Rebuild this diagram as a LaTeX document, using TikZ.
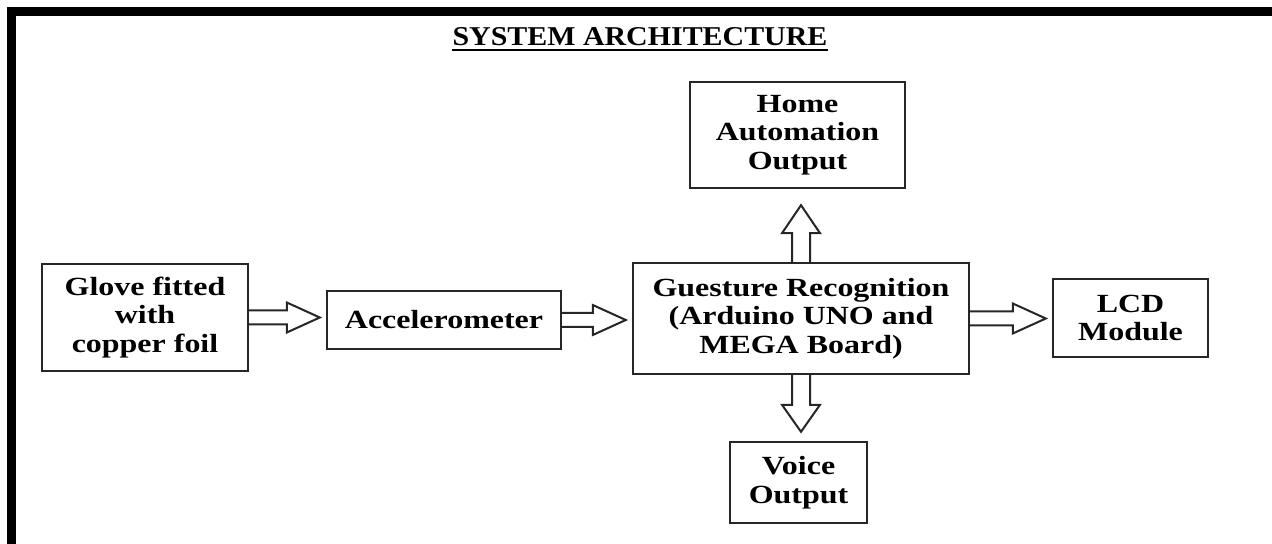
\documentclass[tikz,border=0pt]{standalone}
\usepackage{fontspec}
\setmainfont{Liberation Serif}
\newfontfamily\boxfont[FakeStretch=1.22]{Liberation Serif}
\newfontfamily\titlefont[FakeStretch=1.1]{Liberation Serif}
\usetikzlibrary{calc}
\tikzset{
	block/.style={draw=black!85, line width=1.2pt, fill=white, align=center, inner sep=0pt,
		font=\boxfont\fontsize{13.1}{14.3}\selectfont\bfseries},
	blockarrow/.style={draw=black!85, line width=1pt, line join=miter},
}
% hollow arrow from #1 (east side) to #2 (west side)
\newcommand{\hollowright}[2]{%
	\draw[blockarrow] ($(#1.east)+(0,-7)$) -- ($(#1.east -| #2.west)+(-39,-7)$) -- ++(0,-8)
		-- ($(#1.east -| #2.west)+(-6,0)$) -- ($(#1.east -| #2.west)+(-39,15)$) -- ++(0,-8)
		-- ($(#1.east)+(0,7)$);}
\begin{document}
\begin{tikzpicture}[x=0.5pt,y=-0.5pt]
		\useasboundingbox (0,0) rectangle (1272,544);
		% frame
		\fill [black] (7,7) rectangle (1272,16);
		\fill [black] (7,7) rectangle (16,544);
		% title
		\node (title) [anchor=base, inner sep=0pt, font=\titlefont\fontsize{13.6}{15}\selectfont\bfseries] at (640,46) {SYSTEM ARCHITECTURE};
		\draw [line width=1pt] ([yshift=-2pt]title.base west) -- ([yshift=-2pt]title.base east);
		% blocks
		\node (glove) [block, minimum width=103pt, minimum height=53.5pt] at (145,317.5) {Glove fitted\\with\\copper foil};
		\node (accel) [block, minimum width=117pt, minimum height=29pt] at (444,320) {Accelerometer};
		\node (gesture) [block, minimum width=168pt, minimum height=55.5pt] at (801,318.5) {Guesture Recognition\\(Arduino UNO and\\MEGA Board)};
		\node (home) [block, minimum width=107.5pt, minimum height=53pt] at (797.5,135) {Home\\Automation\\Output};
		\node (lcd) [block, minimum width=77.5pt, minimum height=39pt] at (1130.5,318) {LCD\\Module};
		\node (voice) [block, minimum width=68.5pt, minimum height=40.5pt] at (798.5,482.5) {Voice\\Output};
		% arrows
		\hollowright{glove}{accel}
		\hollowright{accel}{gesture}
		\hollowright{gesture}{lcd}
		\draw [blockarrow] ($(gesture.north)+(-9,0)$) -- ($(gesture.north |- home.south)+(-9,44)$) -- ++(-10,0)
			-- ($(gesture.north |- home.south)+(0,16)$) -- ($(gesture.north |- home.south)+(19,44)$) -- ++(-10,0)
			-- ($(gesture.north)+(9,0)$);
		\draw [blockarrow] ($(gesture.south)+(-9,0)$) -- ($(gesture.south |- voice.north)+(-9,-36)$) -- ++(-10,0)
			-- ($(gesture.south |- voice.north)+(0,-9)$) -- ($(gesture.south |- voice.north)+(19,-36)$) -- ++(-10,0)
			-- ($(gesture.south)+(9,0)$);
\end{tikzpicture}
\end{document}
